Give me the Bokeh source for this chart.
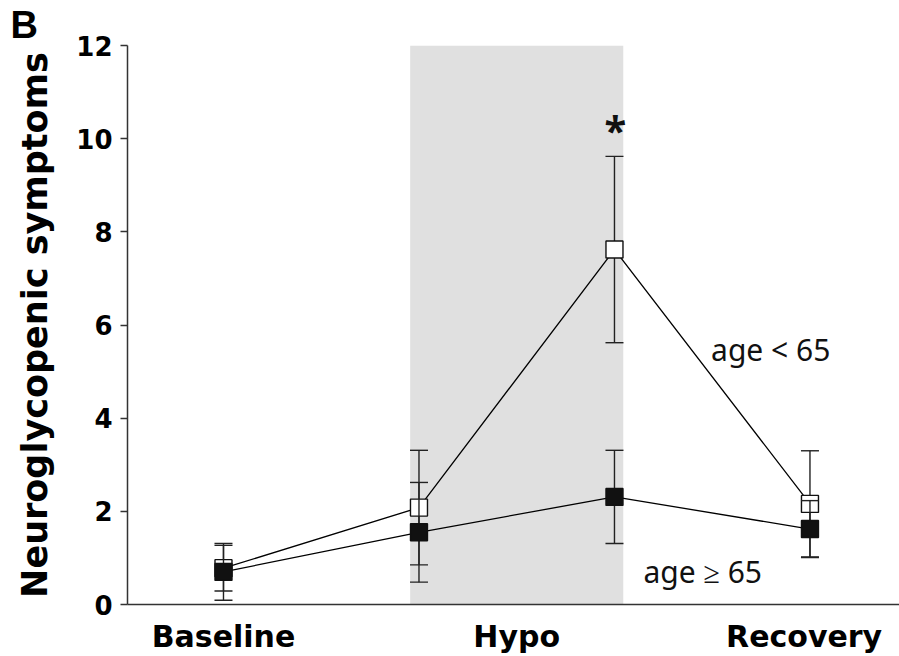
from bokeh.plotting import figure
from bokeh.models import Range1d, FixedTicker, Label, BoxAnnotation
from bokeh.embed import file_html
from bokeh.resources import INLINE

# ---- data ----
phases = ["Baseline", "Hypo", "Recovery"]
phase_label_pos = [0.0, 1.5, 2.97]
x_pos = [0, 1, 2, 3]
young_mean = [0.78, 2.08, 7.62, 2.16]   # age < 65 (open squares)
young_err = [0.49, 1.23, 2.00, 1.14]
old_mean = [0.70, 1.55, 2.31, 1.62]     # age >= 65 (filled squares)
old_err = [0.61, 1.07, 1.00, 0.61]
hypo_band = [0.955, 2.045]
y_ticks = [0, 2, 4, 6, 8, 10, 12]

p = figure(width=899, height=656, output_backend="svg", toolbar_location=None,
           x_range=Range1d(-0.491, 3.458), y_range=Range1d(0, 12),
           min_border_left=127, min_border_right=0, min_border_top=45,
           min_border_bottom=50, title="B")
p.outline_line_color = None
p.xgrid.visible = False
p.ygrid.visible = False
p.background_fill_color = "white"

# panel letter as the plot title, shifted to the far left
p.title.align = "left"
p.title.offset = -117
p.title.standoff = 0
p.title.text_font = "Liberation Sans"
p.title.text_font_style = "bold"
p.title.text_font_size = "38px"
p.title.text_color = "black"

# shaded hypoglycaemia period
p.add_layout(BoxAnnotation(left=hypo_band[0], right=hypo_band[1], bottom=0, top=12,
                           fill_color="#e0e0e0", fill_alpha=1.0, line_color=None,
                           level="underlay"))

def draw_series(mean, err, fill):
    p.line(x_pos, mean, line_color="black", line_width=1.3)
    lo = [m - e for m, e in zip(mean, err)]
    hi = [m + e for m, e in zip(mean, err)]
    p.segment(x0=x_pos, y0=lo, x1=x_pos, y1=hi, line_color="#222222", line_width=1.4)
    p.scatter(x_pos, lo, marker="dash", size=18, line_color="#222222", line_width=1.4)
    p.scatter(x_pos, hi, marker="dash", size=18, line_color="#222222", line_width=1.4)
    p.scatter(x_pos, mean, marker="square", size=17, fill_color=fill,
              line_color="#111111", line_width=1.4)

draw_series(young_mean, young_err, "white")
draw_series(old_mean, old_err, "#111111")

# axes
p.yaxis.ticker = FixedTicker(ticks=y_ticks)
p.yaxis.minor_tick_line_color = None
p.yaxis.major_tick_in = 0
p.yaxis.major_tick_out = 7
p.yaxis.major_label_standoff = 8
p.yaxis.axis_line_color = "#333333"
p.yaxis.axis_line_width = 1.5
p.yaxis.major_tick_line_color = "#333333"
p.yaxis.major_tick_line_width = 1.5
p.yaxis.major_label_text_font = "DejaVu Sans"
p.yaxis.major_label_text_font_style = "bold"
p.yaxis.major_label_text_font_size = "26px"
p.yaxis.major_label_text_color = "black"
p.yaxis.axis_label = "Neuroglycopenic symptoms"
p.yaxis.axis_label_text_font = "DejaVu Sans"
p.yaxis.axis_label_text_font_style = "bold"
p.yaxis.axis_label_text_font_size = "35px"
p.yaxis.axis_label_text_color = "black"
p.yaxis.axis_label_standoff = 18

p.xaxis.ticker = FixedTicker(ticks=phase_label_pos)
p.xaxis.major_label_overrides = {pos: name for pos, name in zip(phase_label_pos, phases)}
p.xaxis.minor_tick_line_color = None
p.xaxis.major_tick_line_color = None
p.xaxis.major_tick_in = 0
p.xaxis.major_tick_out = 0
p.xaxis.major_label_standoff = 14
p.xaxis.axis_line_color = "#333333"
p.xaxis.axis_line_width = 1.5
p.xaxis.major_label_text_font = "DejaVu Sans"
p.xaxis.major_label_text_font_style = "bold"
p.xaxis.major_label_text_font_size = "30px"
p.xaxis.major_label_text_color = "black"

# annotations
p.add_layout(Label(x=2.005, y=10.2, text="*", text_font="Noto Sans", text_font_style="bold",
                   text_font_size="40px", text_align="center", text_baseline="alphabetic",
                   text_color="#111111"))
p.add_layout(Label(x=2.494, y=5.48, text="age < 65", text_font="Noto Sans",
                   text_font_size="30px", text_align="left", text_baseline="alphabetic",
                   text_color="#111111"))
p.add_layout(Label(x=2.148, y=0.706, text="age \u2265 65", text_font="Noto Sans",
                   text_font_size="30px", text_align="left", text_baseline="alphabetic",
                   text_color="#111111"))

open("out.html", "w").write(file_html(p, INLINE))
